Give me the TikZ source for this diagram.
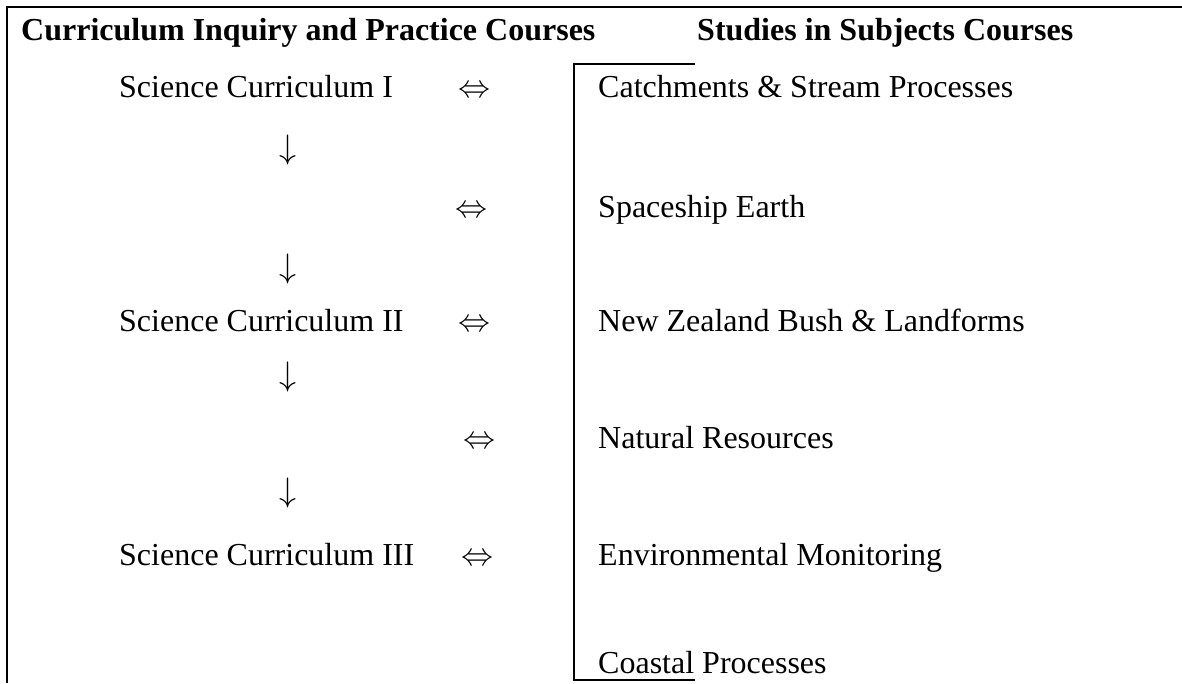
\documentclass[tikz,border=0pt]{standalone}
\usepackage{fontspec}
\setmainfont{Liberation Serif}
\newcommand{\twoway}{\scalebox{3.2}{$\Leftrightarrow$}}
\newcommand{\downmark}{\scalebox{3.4}{$\downarrow$}}
\begin{document}
\begin{tikzpicture}[x=1pt,y=-1pt,
  txt/.style={anchor=base west, inner sep=0pt, font=\fontsize{32}{38}\selectfont},
  hdr/.style={anchor=base west, inner sep=0pt, font=\fontsize{32}{38}\selectfont\bfseries},
  link/.style={anchor=base, inner sep=0pt, font=\normalsize},
  flow/.style={anchor=center, inner sep=0pt, font=\normalsize},
  frameline/.style={line width=2pt},
  bracketline/.style={line width=1.6pt}]
\useasboundingbox (0,0) rectangle (1182,683);

% outer frame: top and left edges
\coordinate (frameR) at (1182,7);
\coordinate (frameC) at (7,7);
\coordinate (frameB) at (7,683);
\draw[frameline] (frameR) -- (frameC) -- (frameB);

% column headings
\node[hdr] (hL) at (21,40) {Curriculum Inquiry and Practice Courses};
\node[hdr] (hR) at (697,40) {Studies in Subjects Courses};

% left column: curriculum courses
\node[txt] (sc1) at (119,97)  {Science Curriculum I};
\node[txt] (sc2) at (119,331) {Science Curriculum II};
\node[txt] (sc3) at (119,565) {Science Curriculum III};

% downward flow marks
\node[flow] (d1) at (288,150) {\downmark};
\node[flow] (d2) at (288,269) {\downmark};
\node[flow] (d3) at (288,377) {\downmark};
\node[flow] (d4) at (288,493) {\downmark};

% two-way links between the columns
\node[link] (e1) at (474,97)  {\twoway};
\node[link] (e2) at (471,217) {\twoway};
\node[link] (e3) at (474,331) {\twoway};
\node[link] (e4) at (479,448) {\twoway};
\node[link] (e5) at (477,565) {\twoway};

% right column: subject courses
\node[txt] (s1) at (598,97)  {Catchments \& Stream Processes};
\node[txt] (s2) at (598,217) {Spaceship Earth};
\node[txt] (s3) at (598,331) {New Zealand Bush \& Landforms};
\node[txt] (s4) at (598,448) {Natural Resources};
\node[txt] (s5) at (598,565) {Environmental Monitoring};
\node[txt] (s6) at (598,673) {Coastal Processes};

% bracket enclosing the subject courses
\coordinate (bTopEnd) at (695,64);
\coordinate (bTop) at (574,64);
\coordinate (bBot) at (574,680);
\coordinate (bBotEnd) at (695,680);
\draw[bracketline] (bTopEnd) -- (bTop) -- (bBot) -- (bBotEnd);
\end{tikzpicture}
\end{document}
